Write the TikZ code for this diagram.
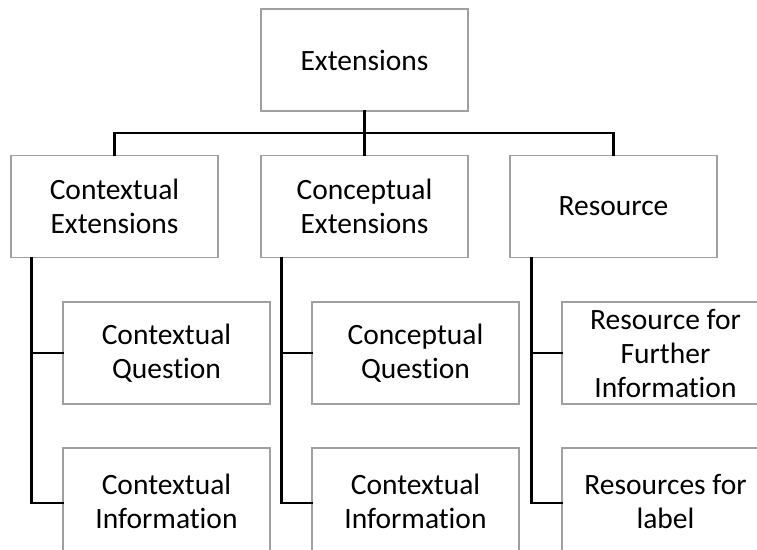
\documentclass[tikz,border=0pt]{standalone}
\usepackage{fontspec}
\setmainfont{Carlito}[Ligatures=NoCommon]
\definecolor{boxgray}{RGB}{160,160,160}
\begin{document}
\begin{tikzpicture}[x=1pt,y=-1pt,
  box/.style={draw=boxgray, line width=1.3pt, fill=white, minimum width=207pt,
    minimum height=102pt, inner sep=0pt, align=center,
    font=\fontsize{29.5}{34}\selectfont},
  tallbox/.style={box, minimum height=106pt},
  link/.style={draw=black, line width=2.7pt, line cap=rect}]
  \useasboundingbox (0,0) rectangle (757,549);
  \clip (0,0) rectangle (757,549);

  % root
  \node[box] (ext) at (364.5,60) {Extensions};

  % second level
  \node[box] (ctx) at (114.5,206.5) {Contextual\\Extensions};
  \node[box] (cpt) at (364.5,206.5) {Conceptual\\Extensions};
  \node[box] (res) at (613.5,206.5) {Resource};

  % third level
  \node[box] (ctxq) at (166.5,353) {Contextual\\Question};
  \node[tallbox] (ctxi) at (166.5,501) {Contextual\\Information};
  \node[box] (cptq) at (415.5,353) {Conceptual\\Question};
  \node[tallbox] (cpti) at (415.5,501) {Contextual\\Information};
  \node[box] (resf) at (665.5,353) {Resource for\\Further\\Information};
  \node[tallbox] (resl) at (665.5,501) {Resources for\\label};

  % bus from the root to the second level
  \coordinate (bus) at (364.5,133);
  \draw[link] (ext.south) -- (bus);
  \draw[link] (bus) -| (ctx.north);
  \draw[link] (bus) -- (cpt.north);
  \draw[link] (bus) -| (res.north);

  % elbow connectors down the left side of each column
  \draw[link] ([xshift=21pt]ctx.south west) |- ([yshift=-2pt]ctxi.west);
  \draw[link] ([xshift=21pt]ctx.south west) |- (ctxq.west);
  \draw[link] ([xshift=21pt]cpt.south west) |- ([yshift=-2pt]cpti.west);
  \draw[link] ([xshift=21pt]cpt.south west) |- (cptq.west);
  \draw[link] ([xshift=22pt]res.south west) |- ([yshift=-2pt]resl.west);
  \draw[link] ([xshift=22pt]res.south west) |- (resf.west);
\end{tikzpicture}
\end{document}
